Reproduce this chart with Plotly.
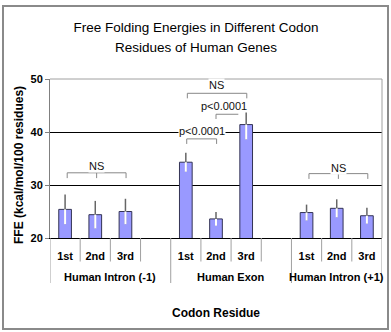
import plotly.graph_objects as go

# ---------------- data ----------------
categories = ["1st", "2nd", "3rd"]
groups = ["Human Intron (-1)", "Human Exon", "Human Intron (+1)"]

intron_m1 = [25.4, 24.4, 25.0]
intron_m1_err = [2.8, 2.6, 2.4]
exon = [34.3, 23.6, 41.4]
exon_err = [1.8, 1.3, 2.8]
intron_p1 = [24.8, 25.6, 24.2]
intron_p1_err = [1.5, 1.7, 1.5]

y_ticks = [20, 30, 40, 50]

title_lines = ["Free Folding Energies in Different Codon", "Residues of Human Genes"]

# significance brackets: (x0, x1, y, y_bottom, left tick, right tick, centre tick, label, label_x, label_y)
brackets = [
    (0.07, 2.02, 32.3, 31.3, True, True, True, "NS", 1.03, 33.6),
    (4.03, 5.02, 38.7, 37.75, True, True, False, "p&lt;0.0001", 4.53, 40.25),
    (5.00, 5.74, 43.35, 42.45, True, False, False, "p&lt;0.0001", 5.28, 44.9),
    (4.05, 6.02, 47.3, 46.35, True, True, False, "NS", 5.0, 48.85),
    (8.08, 10.03, 32.15, 31.15, True, True, True, "NS", 9.05, 33.15),
]

# ---------------- layout helpers ----------------
values = [intron_m1, exon, intron_p1]
errors = [intron_m1_err, exon_err, intron_p1_err]
SLOTS_PER_GROUP = 4

xs, ys, es, ticktext = [], [], [], []
for g, (vals, errs) in enumerate(zip(values, errors)):
    for c, (v, e) in enumerate(zip(vals, errs)):
        xs.append(g * SLOTS_PER_GROUP + c)
        ys.append(v)
        es.append(e)
        ticktext.append(categories[c])

n_slots = SLOTS_PER_GROUP * len(groups) - 1
x_range = [-0.5, n_slots - 0.5]

FONT = "Liberation Sans, Arial, sans-serif"
W, H = 391, 332
ML, MR, MT, MB = 50, 9, 79, 94
PW, PH = W - ML - MR, H - MT - MB


def py(px):  # pixel row -> paper y
    return (H - MB - px) / PH


def pxx(px):  # pixel col -> paper x
    return (px - ML) / PW


fig = go.Figure()

fig.add_trace(go.Bar(
    x=xs, y=ys, width=0.42,
    marker=dict(color="#9999FF", line=dict(color="#333355", width=1)),
    error_y=dict(type="data", array=es, visible=True, color="#666666",
                 thickness=1.5, width=0),
    hoverinfo="skip", showlegend=False,
))
# white lower half of error bars (drawn inside the bars)
fig.add_trace(go.Scatter(
    x=xs, y=ys, mode="markers",
    marker=dict(size=1, color="rgba(0,0,0,0)"),
    error_y=dict(type="data", symmetric=False, array=[0] * len(es),
                 arrayminus=es, visible=True, color="white",
                 thickness=2, width=0),
    hoverinfo="skip", showlegend=False,
))

shapes = []
annotations = []

# brackets
for (x0, x1, y, yb, lt, rt, ct, label, lx, ly) in brackets:
    path = f"M {x0},{y} L {x1},{y}"
    if lt:
        path += f" M {x0},{yb} L {x0},{y}"
    if rt:
        path += f" M {x1},{yb} L {x1},{y}"
    if ct:
        xc = (x0 + x1) / 2
        path += f" M {xc},{yb} L {xc},{y}"
    shapes.append(dict(type="path", xref="x", yref="y", path=path,
                       line=dict(color="#888888", width=1), layer="above"))
    annotations.append(dict(x=lx, y=ly, xref="x", yref="y", text=label,
                            xanchor="center", yanchor="middle",
                            showarrow=False, bgcolor="white", borderpad=0,
                            font=dict(family=FONT, size=11, color="#111111")))

# plot-area border: top and right in grey
shapes.append(dict(type="path", xref="paper", yref="paper",
                   path="M 0,1 L 1,1 L 1,0", line=dict(color="#A0A0A0", width=1),
                   layer="above"))

# separators below the x axis
short_sep = []
long_sep = [x_range[0], x_range[1]]
for g in range(len(groups)):
    start = g * SLOTS_PER_GROUP
    for c in range(len(categories)):
        b = start + c + 0.5
        if b < x_range[1]:
            short_sep.append(b)
    if g > 0:
        long_sep.append(start - 0.5)
for b in short_sep:
    shapes.append(dict(type="line", xref="x", yref="paper", x0=b, x1=b,
                       y0=0, y1=py(261.5), line=dict(color="#A0A0A0", width=1)))
for b in long_sep:
    shapes.append(dict(type="line", xref="x", yref="paper", x0=b, x1=b,
                       y0=0, y1=py(283), line=dict(color="#A0A0A0", width=1)))

# outer chart frame
shapes.append(dict(type="rect", xref="paper", yref="paper",
                   x0=pxx(3), x1=pxx(388), y0=py(329), y1=py(6),
                   line=dict(color="#8A8A8A", width=2)))

# group labels
for g, name in enumerate(groups):
    start = g * SLOTS_PER_GROUP - 0.5
    end = min(start + SLOTS_PER_GROUP, x_range[1])
    annotations.append(dict(x=(start + end) / 2, y=py(277), xref="x", yref="paper",
                            text=name, showarrow=False,
                            xanchor="center", yanchor="middle",
                            font=dict(family=FONT, size=11, color="black",
                                      weight="bold")))

# axis titles
annotations.append(dict(x=0.5, y=py(313), xref="paper", yref="paper",
                        text="Codon Residue", showarrow=False,
                        xanchor="center", yanchor="middle",
                        font=dict(family=FONT, size=12, color="black",
                                  weight="bold")))
annotations.append(dict(x=pxx(19), y=py(165), xref="paper", yref="paper",
                        text="FFE (kcal/mol/100 residues)", textangle=-90,
                        xanchor="center", yanchor="middle",
                        showarrow=False,
                        font=dict(family=FONT, size=12, color="black",
                                  weight="bold")))
# second title line
annotations.append(dict(x=pxx(196), y=py(47), xref="paper", yref="paper",
                        text=title_lines[1], showarrow=False,
                        xanchor="center", yanchor="middle",
                        font=dict(family=FONT, size=13.5, color="black")))

fig.update_layout(
    width=W, height=H,
    margin=dict(l=ML, r=MR, t=MT, b=MB),
    paper_bgcolor="white", plot_bgcolor="white",
    title=dict(text=title_lines[0],
               x=196 / W, xref="container", y=1 - 27 / H, yref="container",
               xanchor="center", yanchor="middle",
               font=dict(family=FONT, size=13.5, color="black")),
    xaxis=dict(range=x_range, tickvals=xs, ticktext=ticktext,
               showgrid=False, zeroline=False, showline=True,
               linecolor="black", linewidth=1, ticks="",
               ticklabelstandoff=8,
               tickfont=dict(family=FONT, size=11, color="black", weight="bold"),
               fixedrange=True),
    yaxis=dict(range=[y_ticks[0], y_ticks[-1]], tickvals=y_ticks,
               showgrid=True, gridcolor="black", gridwidth=1,
               zeroline=False, showline=True, linecolor="#808080", linewidth=1,
               ticks="outside", ticklen=4, tickcolor="#808080",
               tickfont=dict(family=FONT, size=11, color="black", weight="bold"),
               fixedrange=True),
    shapes=shapes,
    annotations=annotations,
    hovermode=False,
)

fig.write_html("out.html", config={"displayModeBar": False},
               post_script="document.body.style.margin='0';")
